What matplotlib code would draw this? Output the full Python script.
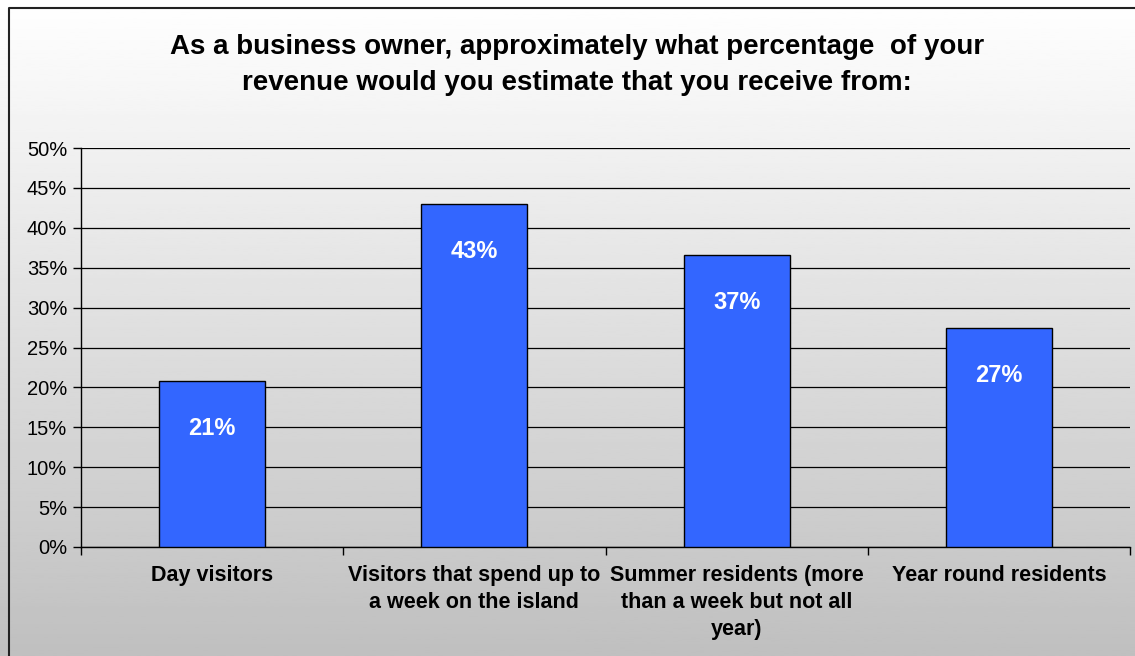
import numpy as np
import matplotlib.pyplot as plt
from matplotlib.lines import Line2D

# values (percent)
categories = ["Day visitors",
              "Visitors that spend up to\na week on the island",
              "Summer residents (more\nthan a week but not all\nyear)",
              "Year round residents"]
values = [20.8, 43.0, 36.6, 27.4]
yticks = [0, 5, 10, 15, 20, 25, 30, 35, 40, 45, 50]

title = ("As a business owner, approximately what percentage  of your\n"
         "revenue would you estimate that you receive from:")

plt.rcParams['font.family'] = ['Liberation Sans', 'DejaVu Sans']

W, H = 1135, 656
fig = plt.figure(figsize=(W / 100, H / 100), dpi=100)

# gradient background for the whole chart area
bg = fig.add_axes([0, 0, 1, 1], zorder=-10)
grad = np.linspace(1.0, 0.75, 256).reshape(-1, 1)
bg.imshow(grad, cmap='gray', vmin=0, vmax=1, aspect='auto',
          extent=[0, 1, 0, 1], origin='upper')
bg.set_xlim(0, 1)
bg.set_ylim(0, 1)
bg.axis('off')
# chart border: only top and left edges are inside the picture
bg.add_line(Line2D([8.5 / W, 8.5 / W, 1], [0, 1 - 7.5 / H, 1 - 7.5 / H],
                   color='#222222', linewidth=1.5))

left, right = 81 / W, 1130 / W
bottom, top = 1 - 547 / H, 1 - 148 / H
ax = fig.add_axes([left, bottom, right - left, top - bottom])
ax.patch.set_alpha(0)

x = np.arange(len(categories))
bars = ax.bar(x, values, width=0.405, color='#3366FF',
              edgecolor='black', linewidth=1, zorder=3)

for xi, v in zip(x, values):
    ax.annotate(f"{v:.0f}%", (xi, v), xytext=(0, -34),
                textcoords='offset points', ha='center', va='center',
                color='white', fontsize=17, fontweight='bold', zorder=4)

ax.set_xlim(-0.5, len(categories) - 0.5)
ax.set_ylim(0, 50)
ax.set_yticks(yticks)
ax.set_yticklabels([f"{t}%" for t in yticks], fontsize=14.5)
ax.yaxis.grid(True, color='black', linewidth=0.9, zorder=0)
ax.set_axisbelow(True)

ax.set_xticks(np.arange(len(categories) + 1) - 0.5)
ax.set_xticklabels([])
ax.set_xticks(x, minor=True)
ax.set_xticklabels(categories, minor=True, fontsize=15.5,
                   fontweight='bold', linespacing=1.36, va='top')
ax.tick_params(axis='x', which='minor', length=0, pad=13)
ax.tick_params(axis='x', which='major', length=6, width=1, direction='out')
ax.tick_params(axis='y', length=6, width=1, direction='out', pad=4)

for s in ['top', 'right']:
    ax.spines[s].set_visible(False)
for s in ['left', 'bottom']:
    ax.spines[s].set_linewidth(1)

fig.text(577 / W, 1 - 65 / H, title, ha='center', va='center',
         fontsize=20, fontweight='bold', linespacing=1.45)

fig.savefig('out.png', dpi=100)
